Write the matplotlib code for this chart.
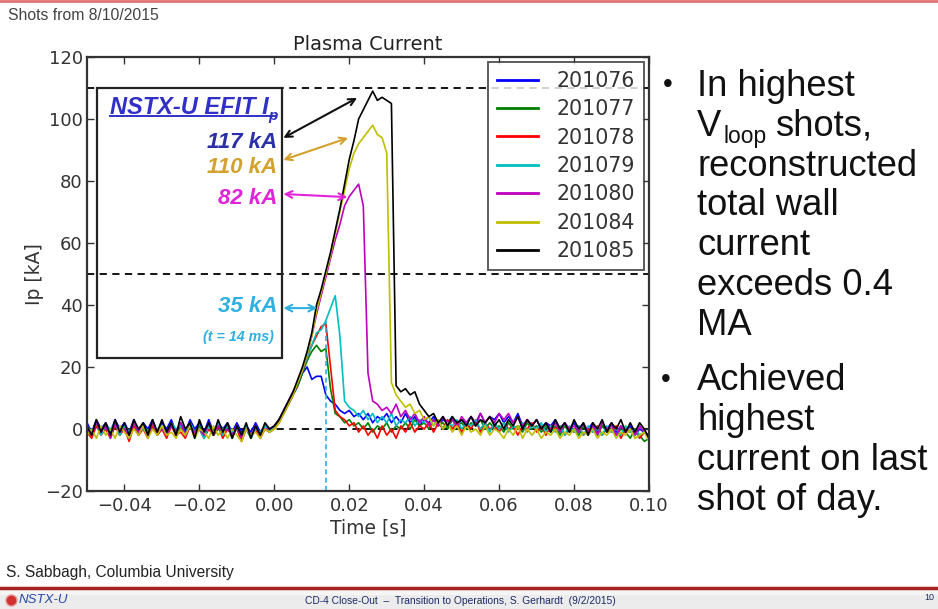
"""Plasma current traces for the 8/10/2015 shots, slide-style layout."""

import numpy as np
import matplotlib
matplotlib.use("Agg")
import matplotlib.pyplot as plt
from matplotlib.lines import Line2D
from matplotlib.patches import Rectangle
from matplotlib.transforms import IdentityTransform

W, H = 938, 609

# 1.25 ms sample grid, -50 ms .. 100 ms
TIME = np.linspace(-0.05, 0.10, 121)

SHOTS = ["201076", "201077", "201078", "201079", "201080", "201084", "201085"]
COLORS = ["b", "g", "r", "c", "m", "y", "k"]

IP_201076 = [2, -1, 3, 0, 2, -1, 3, 0, 2, -1,
             3, -1, 2, 0, 3, -1, 2, 0, 3, -1,
             2, -1, 3, 0, 2, -1, 3, -1, 2, 0,
             2, -1, 2, -1, 1, -1, 2, -1, 1, 0,
             1, 3, 6, 8, 11, 14, 18, 20, 16, 17,
             17, 11, 9, 8, 6, 5, 6, 4, 5, 3,
             5, 2, 4, 3, 5, 2, 4, 2, 5, 2,
             4, 1, 3, 2, 4, 1, 3, 2, 4, 1,
             3, 2, 4, 2, 5, 2, 4, 3, 5, 2,
             4, 2, 5, 1, 3, 1, 3, 0, 2, 1,
             3, 0, 2, 0, 2, -1, 1, 0, 2, -1,
             1, 0, 2, -1, 1, -1, 1, -2, 0, -1,
             -2]
IP_201077 = [0, -2, 2, -1, 1, -2, 2, -2, 1, -1,
             2, -2, 1, -1, 2, -2, 0, -1, 2, -2,
             1, -2, 2, -1, 1, -2, 2, -2, 0, -1,
             1, -3, 1, -2, 0, -3, 1, -2, 0, -1,
             1, 3, 5, 8, 11, 14, 18, 22, 25, 27,
             25, 26, 13, 5, 4, 2, 3, 1, 2, 0,
             2, -1, 1, 0, 2, -1, 1, 0, 2, 0,
             3, 1, 2, 0, 3, 1, 2, 0, 3, 1,
             2, 0, 2, 1, 3, 0, 2, 0, 1, -1,
             2, 0, 1, -1, 2, 0, 1, -1, 1, -1,
             1, -2, 1, -1, 0, -2, 1, -1, 0, -2,
             1, -1, 0, -2, 0, -1, -3, 0, -2, -4,
             -3]
IP_201078 = [-1, -3, 1, -2, 0, -3, 1, -2, 0, -4,
             1, -2, 0, -3, 1, -2, 0, -3, 1, -2,
             -1, -3, 1, -2, 0, -3, 0, -2, 1, -3,
             0, -2, 0, -4, 0, -2, 0, -3, 0, -1,
             0, 2, 5, 8, 11, 15, 19, 23, 27, 30,
             33, 34, 20, 6, 4, 3, 1, 2, -1, 1,
             -2, 0, -3, 1, -2, 0, -3, 1, -1, 2,
             -1, 1, 0, 2, -1, 2, 0, 3, 0, 2,
             -1, 2, 0, 3, -1, 2, 0, 1, -1, 2,
             0, 1, -2, 1, 0, 2, -1, 1, -2, 1,
             0, 1, -2, 0, -1, 1, -2, 0, -1, 1,
             -2, 0, -1, 1, -3, 0, -1, 0, -3, -1,
             -2]
IP_201079 = [1, -1, 2, -2, 1, 0, 2, -2, 1, -1,
             2, -1, 0, -2, 2, -1, 1, -2, 2, 0,
             1, -2, 2, -1, 0, -3, 1, -1, 2, -2,
             1, -1, 0, -2, 1, -3, 0, -1, 1, -1,
             1, 3, 6, 9, 12, 15, 19, 23, 27, 31,
             32, 35, 39, 43, 30, 9, 7, 6, 4, 6,
             3, 5, 2, 4, 2, 5, 1, 3, 2, 4,
             1, 3, 2, 4, 1, 3, 0, 2, 1, 3,
             0, 2, 1, 3, 0, 2, -1, 2, 0, 2,
             -1, 1, 0, 2, -1, 1, 0, 2, -1, 1,
             -1, 1, -2, 1, -1, 1, -2, 1, -1, 0,
             -2, 1, -1, 0, -2, 1, -1, 0, -2, -1,
             -3]
IP_201080 = [0, -2, 2, -1, 1, -3, 2, -1, 0, -2,
             2, -1, 1, -2, 2, -1, 0, -2, 1, -1,
             2, -2, 1, -1, 0, -2, 2, -2, 1, -1,
             0, -2, 1, -3, 0, -2, 1, -2, 0, 0,
             1, 3, 6, 9, 12, 15, 19, 24, 30, 37,
             43, 49, 55, 61, 66, 72, 75, 77, 79, 72,
             18, 9, 8, 6, 7, 5, 8, 4, 6, 3,
             5, 2, 4, 1, 3, 1, 4, 2, 3, 1,
             4, 2, 4, 1, 5, 2, 4, 2, 5, 3,
             5, 2, 4, 1, 3, 1, 3, 0, 2, 0,
             2, -1, 2, 0, 1, -1, 2, -1, 1, -2,
             2, 0, 1, -2, 1, -1, 0, -2, 1, -1,
             -2]
IP_201084 = [-2, 0, -3, 1, -2, 0, -3, 1, -1, -3,
             0, -2, 1, -3, 0, -2, 1, -2, -1, -3,
             0, -2, 1, -3, 0, -1, -3, 1, -2, 0,
             -3, 0, -2, -4, 0, -2, -1, -3, 0, -1,
             0, 2, 5, 8, 11, 15, 19, 24, 30, 38,
             44, 50, 56, 63, 70, 77, 84, 89, 92, 94,
             96, 98, 95, 94, 89, 15, 11, 9, 7, 8,
             5, 6, 3, 4, 1, 3, 0, 2, -1, 1,
             -2, 1, -1, 0, -2, 1, -2, 0, -1, -3,
             0, -2, 1, -3, 0, -2, 0, -3, -1, -2,
             0, -3, -1, -2, 0, -3, -1, -2, 0, -3,
             -1, -2, 0, -3, -1, -2, 0, -3, -2, -1,
             -4]
IP_201085 = [1, -2, 3, -1, 2, -2, 3, -1, 2, -2,
             3, 0, 2, -2, 3, -1, 3, -1, 2, -2,
             4, 0, 2, -3, 3, -1, 2, -2, 3, -1,
             2, -3, 1, -2, 2, -3, 1, -2, 2, 0,
             1, 3, 6, 9, 12, 16, 20, 25, 31, 40,
             45, 51, 57, 64, 71, 79, 87, 93, 100, 103,
             106, 109, 106, 107, 106, 105, 14, 12, 13, 11,
             12, 8, 6, 4, 5, 2, 4, 1, 4, 2,
             3, 1, 4, 1, 3, 2, 4, 1, 3, 0,
             3, 1, 4, 0, 3, 1, 3, 0, 2, -1,
             3, 0, 2, -1, 3, 0, 2, -2, 2, 0,
             3, -1, 2, 0, 3, -1, 2, -1, 2, 0,
             -3]
TRACES = [IP_201076, IP_201077, IP_201078, IP_201079,
          IP_201080, IP_201084, IP_201085]

REF_LEVELS = [110, 50, 0]          # dashed guide lines [kA]
T_EFIT = 0.0137                    # EFIT time for the 35 kA shot [s]
T_EFIT_TOP = 35

# EFIT Ip labels in the box, with arrows into the traces
EFIT_LABELS = ["117 kA", "110 kA", "82 kA", "35 kA"]
EFIT_LABEL_Y = [92.5, 84.5, 74.5, 39.5]
EFIT_COLORS = ["#2a2fa8", "#d2a22c", "#e024d8", "#2fb0e0"]
ARROW_FROM = [(0.0024, 93.9), (0.0024, 86.8), (0.0024, 75.8), (0.0024, 39.0)]
ARROW_TO = [(0.0221, 106.8), (0.0197, 93.9), (0.0195, 74.8), (0.0115, 39.0)]
ARROW_COLORS = ["#111111", "#d2a22c", "#e024d8", "#2fb0e0"]
BOX_T = (-0.0472, 0.0021)
BOX_IP = (22.9, 110)

BULLET_1 = ["In highest", None, "reconstructed",
            "total wall", "current", "exceeds 0.4", "MA"]
BULLET_2 = ["Achieved", "highest", "current on last", "shot of day."]

SANS = ["Liberation Sans", "DejaVu Sans"]


def fx(x):
    return x / W


def fy(y):
    return 1 - y / H


def main():
    plt.rcParams["axes.unicode_minus"] = True

    fig = plt.figure(figsize=(W / 100, H / 100), dpi=100)
    fig.patch.set_facecolor("white")

    # slide chrome
    fig.add_artist(Line2D([0, 1], [fy(1), fy(1)], color="#e07272", lw=2))
    fig.text(fx(8), fy(16), "Shots from 8/10/2015", family=SANS,
             fontsize=11.3, color="#444444", va="center")
    fig.text(fx(6), fy(573), "S. Sabbagh, Columbia University",
             family=SANS, fontsize=11.2, color="#222222", va="center")
    fig.add_artist(Rectangle((0, 0), 1, fy(589), color="#ececec", lw=0))
    fig.add_artist(Rectangle((0, fy(595)), 1, fy(589) - fy(595),
                             color="#f5f5f5", lw=0))
    fig.add_artist(Line2D([0, 1], [fy(587.5), fy(587.5)], color="#a82020",
                          lw=2.5))
    fig.add_artist(Line2D([fx(11)], [fy(600)], marker="o", ms=8,
                          color="#d03030", mec="#e8a0a0"))
    fig.text(fx(19), fy(600), "NSTX-U", family=SANS, style="italic",
             fontsize=9.5, color="#2a4aa8", va="center")
    fig.text(fx(460), fy(601), "CD-4 Close-Out  \u2013  Transition to Operations, "
             "S. Gerhardt  (9/2/2015)", family=SANS, fontsize=7.4,
             color="#1c2c66", ha="center", va="center")
    fig.text(fx(934), fy(598), "10", family=SANS, fontsize=6.5,
             color="#1c2c66", ha="right", va="center")

    # plot
    ax = fig.add_axes([fx(87), fy(491), (649 - 87) / W, (491 - 57) / H])
    for vals, name, col in zip(TRACES, SHOTS, COLORS):
        ax.plot(TIME, vals, color=col, lw=1.2, label=name)
    for lvl in REF_LEVELS:
        ax.axhline(lvl, color="k", lw=1.3, ls=(0, (4, 3)), zorder=1)
    ax.plot([T_EFIT, T_EFIT], [-20, T_EFIT_TOP], color="#2fb0e0", lw=1.2,
            ls=(0, (3, 2)))

    ax.set_xlim(-0.05, 0.10)
    ax.set_ylim(-20, 120)
    ax.set_xticks([-0.04, -0.02, 0.0, 0.02, 0.04, 0.06, 0.08, 0.10])
    ax.set_xticklabels(["\u22120.04", "\u22120.02", "0.00", "0.02", "0.04",
                        "0.06", "0.08", "0.10"])
    ax.set_yticks(range(-20, 121, 20))
    ax.tick_params(direction="in", top=True, right=True, length=5,
                   width=1, labelsize=13, colors="#333333")
    ax.tick_params(axis="y", pad=3)
    ax.tick_params(axis="x", pad=4)
    for s in ax.spines.values():
        s.set_linewidth(1.6)
        s.set_color("#333333")
    ax.set_title("Plasma Current", fontsize=14, pad=5, color="#222222")
    ax.set_xlabel("Time [s]", fontsize=13.5, color="#333333", labelpad=3)
    ax.set_ylabel("Ip [kA]", fontsize=13.5, color="#333333", labelpad=1)

    leg = ax.legend(loc="upper right", fontsize=14.8, frameon=True,
                    fancybox=False, borderaxespad=0.25, handlelength=2.0,
                    handletextpad=0.9, labelspacing=0.41, borderpad=0.42)
    leg.get_frame().set_edgecolor("#333333")
    leg.get_frame().set_linewidth(1.4)
    for t in leg.get_texts():
        t.set_color("#333333")
    for h in leg.get_lines():
        h.set_linewidth(2)

    # EFIT annotation box
    ax.add_patch(Rectangle((BOX_T[0], BOX_IP[0]), BOX_T[1] - BOX_T[0],
                           BOX_IP[1] - BOX_IP[0], fill=False, ec="#222222",
                           lw=1.6, zorder=5))
    title = ax.text(-0.0016, 101.6, "NSTX-U EFIT I", family=SANS,
                    weight="bold", style="italic", fontsize=17,
                    color="#3030c8", ha="right", va="baseline", zorder=6)
    sub_p = ax.text(0.0010, 99.6, "p", family=SANS, weight="bold",
                    style="italic", fontsize=11, color="#3030c8",
                    ha="right", va="baseline", zorder=6)
    for lab, y, col in zip(EFIT_LABELS, EFIT_LABEL_Y, EFIT_COLORS):
        ax.text(0.0008, y, lab, family=SANS, weight="bold",
                style="italic", fontsize=16, color=col, ha="right",
                va="center", zorder=6)
    ax.text(-0.0002, 29.7, "(t = 14 ms)", family=SANS,
            weight="bold", style="italic", fontsize=10.3, color="#2fb0e0",
            ha="right", va="center", zorder=6)
    for a, b, col in zip(ARROW_FROM, ARROW_TO, ARROW_COLORS):
        ax.annotate("", xy=b, xytext=a,
                    arrowprops=dict(arrowstyle="<->", color=col, lw=1.5,
                                    shrinkA=0, shrinkB=0,
                                    mutation_scale=12), zorder=6)

    # right-hand bullets
    fig.text(fx(668), fy(85), "\u2022", family=SANS,
             fontsize=20, color="#111111", ha="center", va="center")
    fig.text(fx(666), fy(380), "\u2022", family=SANS,
             fontsize=20, color="#111111", ha="center", va="center")
    txt = dict(family=SANS, fontsize=26.2, color="#111111", va="baseline")
    for i, line in enumerate(BULLET_1):
        if line is not None:
            fig.text(fx(697), fy(96 + 39.8 * i), line, **txt)
    for i, line in enumerate(BULLET_2):
        fig.text(fx(697), fy(390 + 40 * i), line, **txt)

    # V_loop line, built from pieces so the subscript sits low and small
    fig.canvas.draw()
    rend = fig.canvas.get_renderer()
    base = H - (96 + 39.8)
    v = fig.text(697, base, "V", transform=IdentityTransform(), **txt)
    vb = v.get_window_extent(rend)
    lp = fig.text(vb.x1 + 2, base - 7, "loop", transform=IdentityTransform(),
                  family=SANS, fontsize=16.5, color="#111111", va="baseline")
    lb = lp.get_window_extent(rend)
    fig.text(lb.x1 + 9, base, "shots,", transform=IdentityTransform(), **txt)

    # underline the box title
    tb = title.get_window_extent(rend)
    pb = sub_p.get_window_extent(rend)
    uy = ax.transData.transform((0, 100.9))[1]
    fig.add_artist(Line2D([tb.x0, pb.x1 - 2], [uy, uy], color="#3030c8",
                          lw=1.4, transform=IdentityTransform()))

    fig.savefig("out.png", dpi=100)


if __name__ == "__main__":
    main()
